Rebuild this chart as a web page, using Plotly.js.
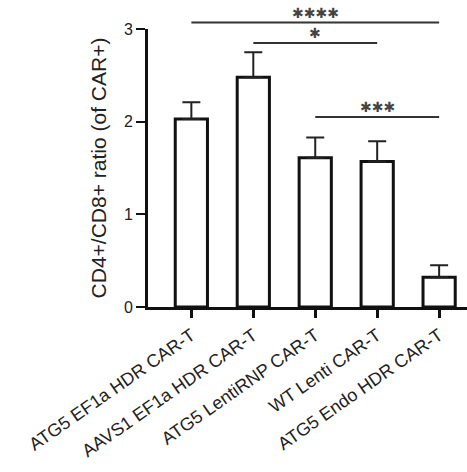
<!DOCTYPE html>
<html>
<head>
<meta charset="utf-8">
<script src="https://cdn.plot.ly/plotly-3.0.1.min.js"></script>
<style>
  html, body { margin: 0; padding: 0; background: #fff; }
  #chart { width: 467px; height: 472px; }
</style>
</head>
<body>
<div id="chart"></div>
<script>
// CD4+/CD8+ ratio within CAR+ cells for each CAR-T product
const categories = [
  'ATG5 EF1a HDR CAR-T',
  'AAVS1 EF1a HDR CAR-T',
  'ATG5 LentiRNP CAR-T',
  'WT Lenti CAR-T',
  'ATG5 Endo HDR CAR-T'
];
const ratioMean = [2.03, 2.48, 1.61, 1.57, 0.32];
const ratioSem = [0.18, 0.27, 0.22, 0.22, 0.13];

// Pairwise significance brackets (category indices, height in data units)
const bracketFrom = [0, 1, 2];
const bracketTo = [4, 3, 4];
const bracketHeight = [3.07, 2.85, 2.05];
const bracketLabel = ['✱✱✱✱', '✱', '✱✱✱'];

const yTicks = [0, 1, 2, 3];
const yMax = 3;

const FONT = 'Arial, "Liberation Sans", Helvetica, sans-serif';
const STAR_FONT = '"DejaVu Sans", sans-serif';

const trace = {
  type: 'bar',
  x: categories.map((_, i) => i),
  y: ratioMean,
  width: 0.52,
  marker: { color: '#ffffff', line: { color: '#111111', width: 3 } },
  error_y: {
    type: 'data',
    array: ratioSem,
    arrayminus: ratioSem.map(() => 0),
    symmetric: false,
    color: '#222222',
    thickness: 2,
    width: 9
  },
  cliponaxis: false
};

const shapes = bracketFrom.map((from, k) => ({
  type: 'line',
  xref: 'x', yref: 'paper',
  x0: from, x1: bracketTo[k],
  y0: bracketHeight[k] / yMax, y1: bracketHeight[k] / yMax,
  line: { color: '#333333', width: 2 }
}));

const annotations = bracketFrom.map((from, k) => ({
  xref: 'x', yref: 'paper',
  x: (from + bracketTo[k]) / 2,
  y: bracketHeight[k] / yMax,
  yanchor: 'bottom',
  yshift: 0,
  text: bracketLabel[k],
  showarrow: false,
  font: { family: STAR_FONT, size: 14, color: '#444444' }
}));

const layout = {
  width: 467,
  height: 472,
  margin: { l: 147.5, r: 0, t: 29, b: 165, pad: 0 },
  paper_bgcolor: '#ffffff',
  plot_bgcolor: '#ffffff',
  showlegend: false,
  font: { family: FONT, color: '#222222' },
  xaxis: {
    type: 'linear',
    range: [-0.7, 4.45],
    tickvals: categories.map((_, i) => i),
    ticktext: categories,
    tickangle: -35,
    tickfont: { family: FONT, size: 18, color: '#222222' },
    showgrid: false,
    zeroline: false,
    showline: true,
    linecolor: '#111111',
    linewidth: 3,
    ticks: 'outside',
    ticklen: 8,
    tickwidth: 3,
    tickcolor: '#111111'
  },
  yaxis: {
    range: [0, yMax],
    tickvals: yTicks,
    ticktext: yTicks.map(String),
    tickfont: { family: FONT, size: 16, color: '#222222' },
    showgrid: false,
    zeroline: false,
    showline: true,
    linecolor: '#111111',
    linewidth: 3,
    ticks: 'outside',
    ticklen: 9,
    tickwidth: 2,
    tickcolor: '#111111',
    title: {
      text: 'CD4+/CD8+ ratio (of CAR+)',
      font: { family: FONT, size: 21, color: '#222222' },
      standoff: 12
    }
  },
  shapes: shapes,
  annotations: annotations
};

Plotly.newPlot('chart', [trace], layout, { staticPlot: true, displayModeBar: false });
</script>
</body>
</html>
